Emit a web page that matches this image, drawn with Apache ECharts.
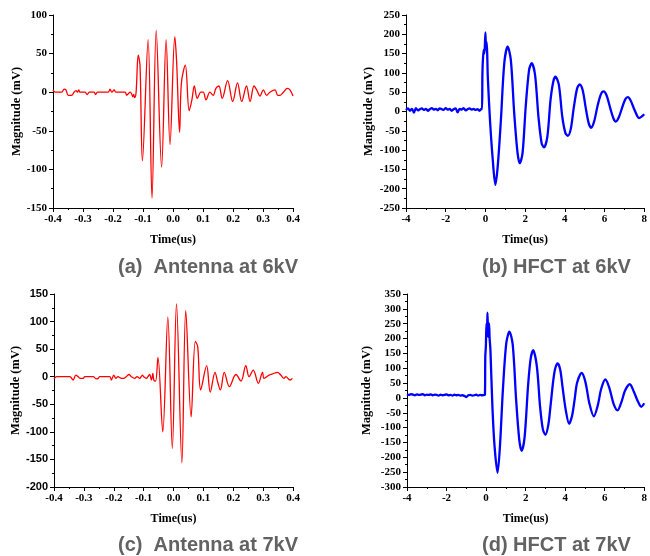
<!DOCTYPE html>
<html>
<head>
<meta charset="utf-8">
<script src="https://cdn.jsdelivr.net/npm/echarts@6/dist/echarts.min.js"></script>
<style>html,body{margin:0;padding:0;background:#fff}#c{width:650px;height:556px}</style>
</head>
<body>
<div id="c"></div>
<script>
// ---- Panel (a): Antenna at 6kV ----
const antA_t = [-0.400,-0.393,-0.371,-0.363,-0.357,-0.349,-0.338,-0.330,-0.323,-0.319,-0.314,-0.310,-0.293,-0.286,-0.279,-0.263,-0.258,-0.252,-0.216,-0.210,-0.204,-0.196,-0.191,-0.160,-0.154,-0.149,-0.143,-0.138,-0.134,-0.131,-0.128,-0.123,-0.116,-0.110,-0.102,-0.083,-0.070,-0.056,-0.038,-0.023,-0.010,0.006,0.012,0.022,0.028,0.041,0.054,0.063,0.071,0.081,0.093,0.101,0.110,0.123,0.134,0.143,0.153,0.164,0.182,0.199,0.215,0.229,0.245,0.257,0.270,0.279,0.290,0.301,0.312,0.323,0.340,0.349,0.357,0.368,0.381,0.390,0.400];
const antA_v = [3,0,0,4,3,-4,-4,0,2,0,3,0,0,-3,0,0,-3,0,0,4,0,3,0,0,-4,-2,0,-2,-6,-3,-7,0,48,35,-89,68,-137,80,-97,68,-68,72,40,-52,12,35,-24,-10,8,-8,0,0,-10,0,-4,5,8,-8,15,-12,12,-12,8,-12,8,3,-5,3,-4,0,3,-4,-4,0,5,3,-5];

// ---- Panel (c): Antenna at 7kV ----
const antC_t = [-0.400,-0.391,-0.380,-0.347,-0.336,-0.327,-0.319,-0.313,-0.302,-0.297,-0.269,-0.258,-0.252,-0.247,-0.213,-0.208,-0.200,-0.193,-0.186,-0.174,-0.167,-0.158,-0.149,-0.141,-0.130,-0.122,-0.113,-0.104,-0.100,-0.091,-0.080,-0.074,-0.069,-0.066,-0.060,-0.052,-0.036,-0.019,-0.004,0.010,0.028,0.041,0.059,0.073,0.081,0.091,0.111,0.123,0.139,0.148,0.157,0.170,0.187,0.209,0.226,0.242,0.253,0.267,0.284,0.298,0.303,0.320,0.331,0.348,0.359,0.370,0.376,0.390,0.398];
const antC_v = [-4,0,0,0,-6,3,0,-3,-3,0,0,-4,-3,0,0,-6,3,-3,0,-3,-3,0,4,0,-3,0,-3,3,0,-3,4,-6,6,-6,-8,35,-100,108,-130,132,-156,120,-73,64,55,-24,20,-28,8,-10,-24,8,-18,4,-8,20,0,12,-12,8,-3,3,5,8,3,-3,0,-6,-3];

// ---- Panel (b): HFCT at 6kV ----
const hfctB_baseStart = -4.0, hfctB_baseStep = 0.1;
const hfctB_base = [4,8,2,7,-3,9,3,6,8,4,7,2,6,9,5,7,3,8,6,4,9,5,7,2,6,8,-2,7,5,9,3,6,8,5,7,4,6,2,7];
const hfctB_t = [-0.17,-0.15,-0.12,-0.08,-0.05,0.0,0.03,0.06,0.09,0.12,0.23,0.37,0.5,0.62,0.78,0.95,1.12,1.28,1.45,1.62,1.73,1.87,2.03,2.2,2.33,2.5,2.67,2.83,2.95,3.12,3.28,3.42,3.53,3.7,3.87,4.03,4.15,4.3,4.45,4.62,4.75,4.9,5.05,5.2,5.33,5.48,5.65,5.82,5.95,6.1,6.28,6.45,6.57,6.72,6.9,7.05,7.17,7.32,7.5,7.65,7.73,7.85,8.0];
const hfctB_v = [6,100,140,160,150,205,160,180,150,90,-22,-125,-190,-142,-22,125,168,134,-4,-108,-134,-108,13,108,125,95,-13,-82,-93,-65,30,78,90,69,-13,-56,-63,-45,10,60,70,55,10,-30,-42,-25,15,45,52,42,10,-18,-26,-15,12,32,37,28,5,-12,-17,-14,-7];

// ---- Panel (d): HFCT at 7kV ----
const hfctD_baseStart = -4.0, hfctD_baseStep = 0.1;
const hfctD_base = [12,10,13,11,9,12,10,11,13,9,11,10,12,9,11,10,8,11,9,10,12,9,10,8,11,9,10,8,9,7,3,9,10,8,9,11,8,10,9];
const hfctD_t = [-0.06,-0.04,-0.01,0.02,0.05,0.07,0.10,0.12,0.15,0.18,0.22,0.32,0.43,0.58,0.70,0.85,1.02,1.18,1.35,1.52,1.68,1.80,1.95,2.12,2.25,2.38,2.57,2.73,2.87,3.00,3.15,3.27,3.40,3.50,3.62,3.75,3.88,4.03,4.20,4.35,4.48,4.60,4.83,5.02,5.23,5.45,5.65,5.82,6.03,6.23,6.45,6.65,6.85,7.03,7.27,7.48,7.68,7.85,8.00];
const hfctD_v = [10,140,175,251,230,287,215,206,251,200,161,-30,-164,-252,-164,27,184,223,178,-7,-142,-178,-131,38,130,161,105,-29,-105,-124,-90,-20,60,100,116,95,30,-41,-87,-60,-5,50,84,55,-20,-62,-25,30,62,35,-20,-42,-13,25,46,20,-12,-30,-18];

// ---- Axis ticks ----
const antX = {min:-0.4, max:0.4, interval:0.1};
const antA_Y = {min:-150, max:100, interval:50};
const antC_Y = {min:-200, max:150, interval:50};
const hfctX = {min:-4, max:8, interval:2};
const hfctB_Y = {min:-250, max:250, interval:50};
const hfctD_Y = {min:-300, max:350, interval:50};

const captions = ["(a)  Antenna at 6kV", "(b) HFCT at 6kV", "(c)  Antenna at 7kV", "(d) HFCT at 7kV"];
const yNames = ["Magnitude (mV)", "Mangitude (mV)", "Magnitude (mV)", "Magnitude (mV)"];
const xName = "Time(us)";

function zip(t, v){ return t.map((x,i)=>[x, v[i]]); }
function baseline(start, step, vals){ return vals.map((v,i)=>[+(start + i*step).toFixed(3), v]); }

const serif = 'Liberation Serif';
const sans = 'Liberation Sans';

function xAxis(idx, sc, fmt){
  return {
    type:'value', gridIndex:idx, min:sc.min, max:sc.max, interval:sc.interval,
    name:xName, nameLocation:'middle', nameGap:26,
    nameTextStyle:{fontFamily:serif, fontWeight:'bold', fontSize:12, color:'#000'},
    axisLine:{show:true, onZero:false, lineStyle:{color:'#000', width:1}},
    axisTick:{show:true, inside:false, length:4, lineStyle:{color:'#000'}},
    minorTick:{show:true, splitNumber:2, length:2, lineStyle:{color:'#000'}},
    splitLine:{show:false},
    axisLabel:{fontFamily:serif, fontWeight:'bold', fontSize:11, color:'#000', margin:6, formatter:fmt}
  };
}
function yAxis(idx, sc, name, gap, labelFont){
  return {
    type:'value', gridIndex:idx, min:sc.min, max:sc.max, interval:sc.interval,
    name:name, nameLocation:'middle', nameGap:gap, nameRotate:90,
    nameTextStyle:{fontFamily:serif, fontWeight:'bold', fontSize:12.5, color:'#000'},
    axisLine:{show:true, onZero:false, lineStyle:{color:'#000', width:1}},
    axisTick:{show:true, inside:false, length:4, lineStyle:{color:'#000'}},
    minorTick:{show:true, splitNumber:2, length:2, lineStyle:{color:'#000'}},
    splitLine:{show:false},
    axisLabel:{fontFamily:labelFont, fontWeight:'bold', fontSize:11, color:'#000', margin:6}
  };
}
const fmt1 = v => v.toFixed(1);

const chart = echarts.init(document.getElementById('c'), null, {renderer:'canvas'});
chart.setOption({
  animation:false,
  backgroundColor:'#fff',
  grid:[
    {left:53, top:15, width:240, height:193},
    {left:406, top:15, width:240, height:193},
    {left:54, top:294, width:239, height:193},
    {left:407, top:294, width:240, height:193}
  ],
  xAxis:[
    xAxis(0, antX, fmt1),
    xAxis(1, hfctX),
    xAxis(2, antX, fmt1),
    xAxis(3, hfctX)
  ],
  yAxis:[
    yAxis(0, antA_Y, yNames[0], 28, serif),
    yAxis(1, hfctB_Y, yNames[1], 31, serif),
    yAxis(2, antC_Y, yNames[2], 32, sans),
    yAxis(3, hfctD_Y, yNames[3], 34, serif)
  ],
  series:[
    {type:'line', xAxisIndex:0, yAxisIndex:0, data:zip(antA_t, antA_v), showSymbol:false, smooth:0.35, lineStyle:{color:'#ff0000', width:1.3}},
    {type:'line', xAxisIndex:1, yAxisIndex:1, data:baseline(hfctB_baseStart, hfctB_baseStep, hfctB_base).concat(zip(hfctB_t, hfctB_v)), showSymbol:false, smooth:0.3, lineStyle:{color:'#0000ff', width:2.3}},
    {type:'line', xAxisIndex:2, yAxisIndex:2, data:zip(antC_t, antC_v), showSymbol:false, smooth:0.35, lineStyle:{color:'#ff0000', width:1.3}},
    {type:'line', xAxisIndex:3, yAxisIndex:3, data:baseline(hfctD_baseStart, hfctD_baseStep, hfctD_base).concat(zip(hfctD_t, hfctD_v)), showSymbol:false, smooth:0.3, lineStyle:{color:'#0000ff', width:2.3}}
  ],
  graphic:[
    {type:'text', left:118, top:257, style:{text:captions[0], font:'bold 20px "Liberation Sans"', fill:'#626262'}},
    {type:'text', left:482, top:257, style:{text:captions[1], font:'bold 20px "Liberation Sans"', fill:'#626262'}},
    {type:'text', left:118, top:535, style:{text:captions[2], font:'bold 20px "Liberation Sans"', fill:'#626262'}},
    {type:'text', left:482, top:535, style:{text:captions[3], font:'bold 20px "Liberation Sans"', fill:'#626262'}}
  ]
});
</script>
</body>
</html>
